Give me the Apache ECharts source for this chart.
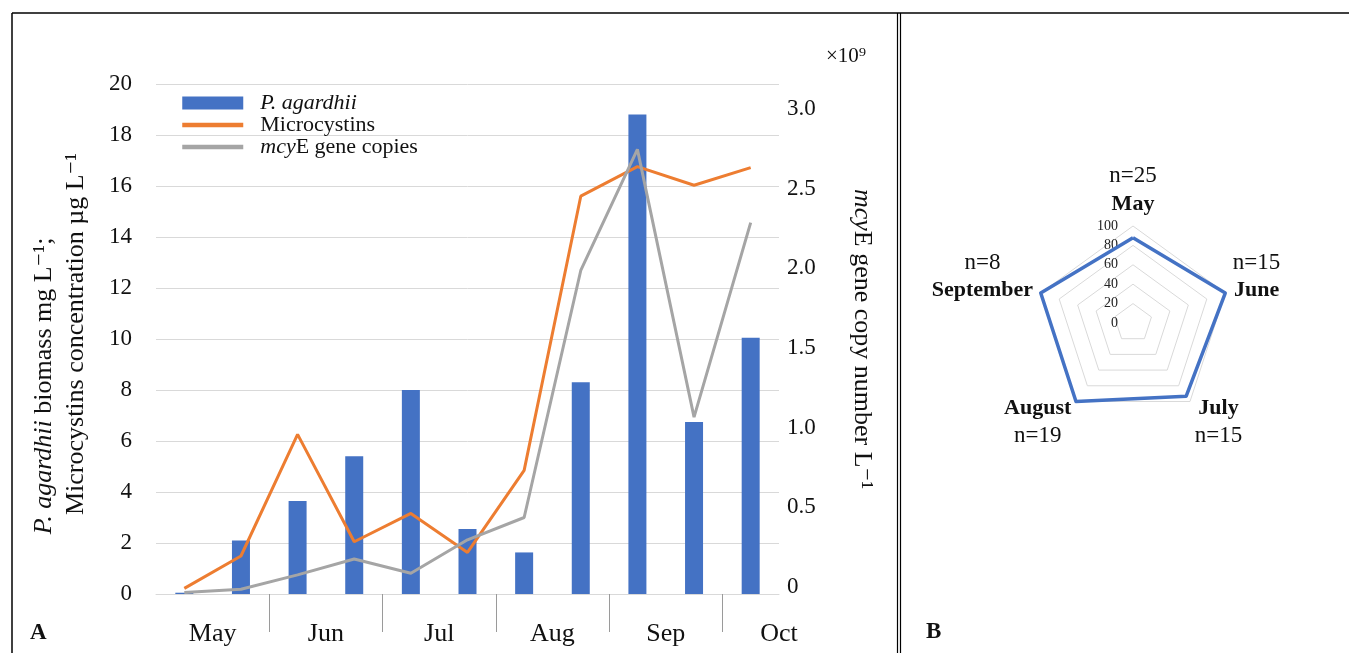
<!DOCTYPE html>
<html>
<head>
<meta charset="utf-8">
<title>P. agardhii, microcystins and mcyE</title>
<script src="https://cdn.jsdelivr.net/npm/echarts@6/dist/echarts.min.js"></script>
<style>
    html, body { margin: 0; padding: 0; background: #fff; }
    #chart { width: 1349px; height: 653px; }
</style>
</head>
<body>
<div id="chart"></div>
<script>
// Panel A: two samples per month, May to October
const sampleLabels = ['May-1', 'May-2', 'Jun-1', 'Jun-2', 'Jul-1', 'Jul-2', 'Aug-1', 'Aug-2', 'Sep-1', 'Sep-2', 'Oct-1'];
const monthLabels = ['May', 'Jun', 'Jul', 'Aug', 'Sep', 'Oct'];
const biomass = [0.05, 2.1, 3.65, 5.4, 8.0, 2.55, 1.63, 8.3, 18.8, 6.75, 10.05];          // mg L-1
const microcystins = [0.22, 1.49, 6.26, 2.05, 3.16, 1.63, 4.85, 15.6, 16.76, 16.03, 16.72]; // µg L-1
const mcyeCopies = [0.01, 0.03, 0.12, 0.22, 0.13, 0.34, 0.48, 2.03, 2.79, 1.11, 2.33];       // x10^9 L-1

// Panel B: share of samples with mcyE (%)
const radarMonths = ['May', 'June', 'July', 'August', 'September'];
const radarCounts = ['n=25', 'n=15', 'n=15', 'n=19', 'n=8'];
const radarValues = [88, 100, 93.3, 100, 100];

const FONT = '"Liberation Serif", "DejaVu Serif", serif';
const BLACK = '#111';

// boundaries between samples, the month labels sit on every second one
const boundaries = [];
for (let i = 0; i <= sampleLabels.length; i++) boundaries.push('b' + i);

// ECharts lays radar indicators counter-clockwise, the figure goes clockwise
const radarOrder = [0, 4, 3, 2, 1];

function radarName(name) {
    const i = radarMonths.indexOf(name);
    const below = (i === 2 || i === 3);
    if (i === 0) return '{n|' + radarCounts[i] + '}\n{b|' + name + '}';
    if (below) return '{e|}\n{b|' + name + '}\n{n|' + radarCounts[i] + '}';
    return '{n|' + radarCounts[i] + '}\n{b|' + name + '}\n{e|}';
}

const chart = echarts.init(document.getElementById('chart'));

chart.setOption({
    animation: false,
    textStyle: { fontFamily: FONT, color: BLACK },
    title: [
        { text: '×10⁹', left: 821, top: 41, textStyle: { fontFamily: FONT, fontSize: 21, fontWeight: 'normal', color: BLACK } },
        { text: 'A', left: 25, top: 617, textStyle: { fontFamily: FONT, fontSize: 23, fontWeight: 'bold', color: BLACK } },
        { text: 'B', left: 921, top: 616, textStyle: { fontFamily: FONT, fontSize: 23, fontWeight: 'bold', color: BLACK } }
    ],
    legend: {
        orient: 'vertical',
        left: 175,
        top: 87,
        itemWidth: 61,
        itemHeight: 13,
        itemGap: 0,
        data: [
            { name: 'P. agardhii', icon: 'rect' },
            { name: 'Microcystins', lineStyle: { width: 4.5 }, itemStyle: { opacity: 0 } },
            { name: 'mcyE gene copies', lineStyle: { width: 4.5 }, itemStyle: { opacity: 0 } }
        ],
        formatter: function (name) {
            if (name === 'P. agardhii') return '{i|P. agardhii}';
            if (name === 'mcyE gene copies') return '{i|mcy}{t|E gene copies}';
            return '{t|' + name + '}';
        },
        textStyle: {
            fontFamily: FONT,
            fontSize: 22,
            color: BLACK,
            padding: [0, 0, 0, 12],
            rich: {
                i: { fontFamily: FONT, fontSize: 22, fontStyle: 'italic', color: BLACK, lineHeight: 23 },
                t: { fontFamily: FONT, fontSize: 22, color: BLACK, lineHeight: 23 }
            }
        }
    },
    grid: [
        { left: 156, top: 84, right: 570, bottom: 59 },
        { left: 1133, top: 226, width: 1, height: 97 }
    ],
    xAxis: [
        {
            type: 'category',
            gridIndex: 0,
            data: sampleLabels,
            axisLine: { lineStyle: { color: '#d9d9d9', width: 1 } },
            axisTick: { show: false },
            axisLabel: { show: false }
        },
        {
            type: 'category',
            gridIndex: 0,
            position: 'bottom',
            boundaryGap: false,
            data: boundaries,
            axisLine: { show: false },
            axisTick: {
                show: true,
                length: 38,
                interval: function (i) { return i > 0 && i < sampleLabels.length && i % 2 === 0; },
                lineStyle: { color: '#9a9a9a', width: 1 }
            },
            axisLabel: {
                interval: function (i) { return i % 2 === 1 || i === sampleLabels.length; },
                formatter: function (v, i) { return monthLabels[Math.floor(i / 2)] || ''; },
                fontFamily: FONT,
                fontSize: 26,
                color: BLACK,
                margin: 27
            }
        },
        { type: 'value', gridIndex: 1, show: false }
    ],
    yAxis: [
        {
            type: 'value',
            gridIndex: 0,
            min: 0,
            max: 20,
            interval: 2,
            axisLine: { show: false },
            axisTick: { show: false },
            splitLine: { lineStyle: { color: '#d9d9d9', width: 1 } },
            axisLabel: { fontFamily: FONT, fontSize: 23, color: BLACK, margin: 24 },
            name: '{i|P. agardhii}{t| biomass mg L⁻¹;}{p|}\n{q|}{t|Microcystins concentration µg L⁻¹}',
            nameLocation: 'middle',
            nameRotate: 90,
            nameGap: 64,
            nameTextStyle: {
                fontFamily: FONT,
                fontSize: 26,
                color: BLACK,
                rich: {
                    i: { fontFamily: FONT, fontSize: 26, fontStyle: 'italic', color: BLACK, lineHeight: 32 },
                    t: { fontFamily: FONT, fontSize: 26, color: BLACK, lineHeight: 32 },
                    p: { width: 94, lineHeight: 32 },
                    q: { width: 10, lineHeight: 32 }
                }
            }
        },
        {
            type: 'value',
            gridIndex: 0,
            position: 'right',
            min: 0,
            max: 3.2,
            interval: 0.5,
            axisLine: { show: false },
            axisTick: { show: false },
            splitLine: { show: false },
            axisLabel: {
                fontFamily: FONT,
                fontSize: 23,
                color: BLACK,
                margin: 8,
                showMaxLabel: false,
                verticalAlign: 'bottom',
                lineHeight: 14,
                formatter: function (v) { return v === 0 ? '0' : v.toFixed(1); }
            },
            name: '{i|mcy}{t|E gene copy number L⁻¹}',
            nameLocation: 'middle',
            nameRotate: -90,
            nameGap: 70,
            nameTextStyle: {
                fontFamily: FONT,
                fontSize: 26,
                color: BLACK,
                rich: {
                    i: { fontFamily: FONT, fontSize: 26, fontStyle: 'italic', color: BLACK },
                    t: { fontFamily: FONT, fontSize: 26, color: BLACK }
                }
            }
        },
        {
            type: 'value',
            gridIndex: 1,
            min: 0,
            max: 100,
            interval: 20,
            axisLine: { show: false },
            axisTick: { show: false },
            splitLine: { show: false },
            axisLabel: { fontFamily: FONT, fontSize: 14, color: '#222', margin: 15 }
        }
    ],
    radar: {
        center: [1133, 323],
        radius: 97,
        startAngle: 90,
        shape: 'polygon',
        splitNumber: 5,
        nameGap: 8,
        indicator: radarOrder.map(i => ({ name: radarMonths[i], min: 0, max: 100 })),
        axisName: {
            formatter: radarName,
            fontFamily: FONT,
            color: BLACK,
            rich: {
                n: { fontFamily: FONT, fontSize: 23, color: BLACK, align: 'center', lineHeight: 28 },
                b: { fontFamily: FONT, fontSize: 22, fontWeight: 'bold', color: BLACK, align: 'center', lineHeight: 28 },
                e: { fontSize: 22, lineHeight: 28 }
            }
        },
        axisLine: { show: false },
        axisTick: { show: false },
        axisLabel: { show: false },
        splitArea: { show: false },
        splitLine: { lineStyle: { color: '#d9d9d9', width: 1 } }
    },
    series: [
        {
            name: 'P. agardhii',
            type: 'bar',
            xAxisIndex: 0,
            yAxisIndex: 0,
            data: biomass,
            barWidth: 18,
            itemStyle: { color: '#4472C4' }
        },
        {
            name: 'Microcystins',
            type: 'line',
            xAxisIndex: 0,
            yAxisIndex: 0,
            data: microcystins,
            symbol: 'none',
            lineStyle: { color: '#ED7D31', width: 3 },
            itemStyle: { color: '#ED7D31' }
        },
        {
            name: 'mcyE gene copies',
            type: 'line',
            xAxisIndex: 0,
            yAxisIndex: 1,
            data: mcyeCopies,
            symbol: 'none',
            lineStyle: { color: '#A5A5A5', width: 3 },
            itemStyle: { color: '#A5A5A5' }
        },
        {
            name: 'mcyE detection',
            type: 'radar',
            symbol: 'none',
            lineStyle: { color: '#4472C4', width: 3.5 },
            itemStyle: { color: '#4472C4' },
            data: [{ value: radarOrder.map(i => radarValues[i]) }]
        }
    ],
    graphic: [
        { type: 'line', shape: { x1: 12, y1: 13, x2: 12, y2: 653 }, style: { stroke: '#000', lineWidth: 1.5 } },
        { type: 'line', shape: { x1: 12, y1: 13, x2: 1349, y2: 13 }, style: { stroke: '#000', lineWidth: 1.5 } },
        { type: 'line', shape: { x1: 897.5, y1: 13, x2: 897.5, y2: 653 }, style: { stroke: '#000', lineWidth: 1.2 } },
        { type: 'line', shape: { x1: 900.5, y1: 13, x2: 900.5, y2: 653 }, style: { stroke: '#000', lineWidth: 1.2 } }
    ]
});
</script>
</body>
</html>
